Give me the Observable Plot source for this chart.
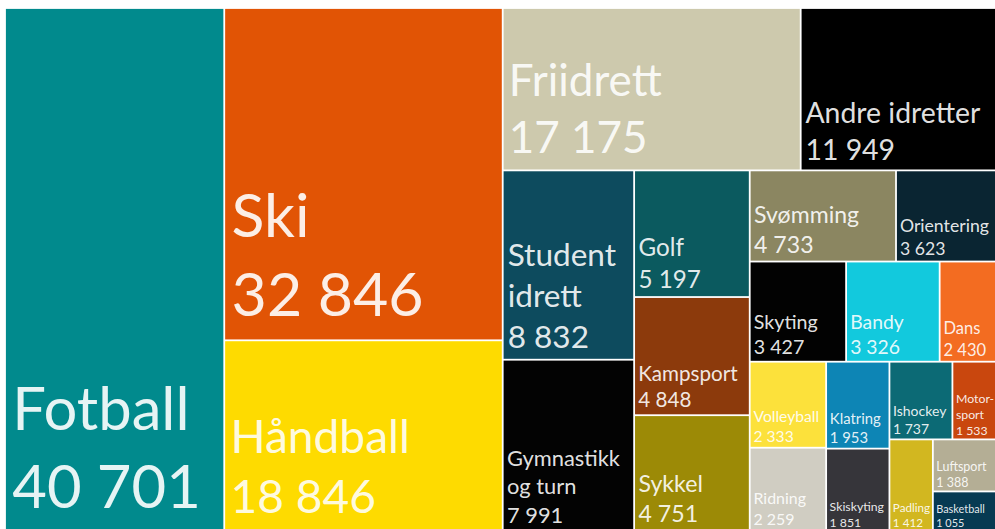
<!DOCTYPE html>
<html>
<head>
<meta charset="utf-8">
<script src="https://cdn.jsdelivr.net/npm/d3@7"></script>
<script src="https://cdn.jsdelivr.net/npm/@observablehq/plot@0.6"></script>
<style>
  html, body { margin: 0; padding: 0; background: #ffffff; }
  #chart { width: 995px; height: 529px; overflow: hidden; }
</style>
</head>
<body>
<div id="chart"></div>
<script>
// Categories (labels, with the line breaks used in the picture)
const categories = [
  "Fotball", "Ski", "Håndball", "Friidrett", "Andre idretter",
  "Student\nidrett", "Gymnastikk\nog turn", "Golf", "Kampsport", "Sykkel",
  "Svømming", "Orientering", "Skyting", "Bandy", "Dans",
  "Volleyball", "Ridning", "Klatring", "Skiskyting", "Ishockey",
  "Motor-\nsport", "Padling", "Luftsport", "Basketball"
];
// Members per sport
const values = [
  40701, 32846, 18846, 17175, 11949,
  8832, 7991, 5197, 4848, 4751,
  4733, 3623, 3427, 3326, 2430,
  2333, 2259, 1953, 1851, 1737,
  1533, 1412, 1388, 1055
];
// Tile colours
const colors = [
  "#018a8d", "#e15405", "#fedb00", "#cdc9ad", "#000000",
  "#0d4b5e", "#030303", "#0b5a5f", "#8c3a0c", "#9c8a06",
  "#8b8661", "#0a2532", "#020202", "#12c9dd", "#f36c21",
  "#fce13b", "#d0cdc2", "#0d85b5", "#36353a", "#0c6a75",
  "#c9470e", "#d2b720", "#b4ae95", "#073a52"
];
// Number of consecutive tiles in each strip of the layout
const stripCounts = [1, 2, 2, 2, 3, 2, 3, 2, 2, 2, 1, 1, 1];

const W = 1003, H = 523;   // treemap extent (partly cropped by the frame)
const X_VISIBLE = 990;     // right edge of the visible frame, in treemap units

function stripTile(parent, x0, y0, x1, y1) {
  const nodes = parent.children;
  let value = parent.value, i = 0;
  for (const g of stripCounts) {
    if (i >= nodes.length) break;
    const row = {children: nodes.slice(i, i + g)};
    row.value = d3.sum(row.children, d => d.value);
    const dx = x1 - x0, dy = y1 - y0;
    if (dx < dy) {
      const yy = y0 + dy * row.value / value;
      d3.treemapDice(row, x0, y0, x1, yy);
      y0 = yy;
    } else {
      const xx = x0 + dx * row.value / value;
      d3.treemapSlice(row, x0, y0, xx, y1);
      x0 = xx;
    }
    value -= row.value;
    i += g;
  }
}

const data = categories.map((c, i) => ({name: c, value: values[i], color: colors[i]}));
const root = d3.treemap().size([W, H]).tile(stripTile).round(false)(
  d3.hierarchy({children: data}).sum(d => d.value)
);

const fmt = v => String(v).replace(/\B(?=(\d{3})+(?!\d))/g, " ");
const FONT = "Lato";
const ctx = document.createElement("canvas").getContext("2d");
ctx.font = `100px ${FONT}`;
const emWidth = s => ctx.measureText(s).width / 100;

const tiles = root.leaves().map(n => {
  const w = n.x1 - n.x0, h = n.y1 - n.y0;
  const wVis = Math.min(n.x1, X_VISIBLE) - n.x0;
  const lines = [...n.data.name.split("\n"), fmt(n.data.value)];
  const em = d3.max(lines, emWidth);
  const lh = 1.3;
  const fs = Math.min(0.2 * Math.sqrt(w * h), 0.86 * w / em, 0.9 * wVis / em, 0.85 * h / (lines.length * lh));
  return {
    ...n.data,
    x0: n.x0, x1: n.x1, y0: n.y0, y1: n.y1,
    label: lines.join("\n"),
    fs,
    lx: n.x0 + 2 + 0.08 * fs,
    ly: n.y1 - 0.4 * fs
  };
});

const chart = Plot.plot({
  width: 995,
  height: 529,
  margin: 0,
  style: {background: "#ffffff"},
  x: {domain: [-5, 990], range: [0, 995], axis: null},
  y: {domain: [-8, 521], range: [0, 529], axis: null},
  color: {type: "identity"},
  marks: [
    Plot.rect(tiles, {x1: "x0", x2: "x1", y1: "y0", y2: "y1", fill: "color", inset: 0.9, clip: true}),
    Plot.text(tiles, {
      x: "lx", y: "ly", text: "label", fontSize: "fs",
      textAnchor: "start", lineAnchor: "bottom", lineHeight: 1.3,
      fill: "#ffffff", fillOpacity: 0.9, fontFamily: FONT, clip: true
    })
  ]
});
document.getElementById("chart").appendChild(chart);
</script>
</body>
</html>
